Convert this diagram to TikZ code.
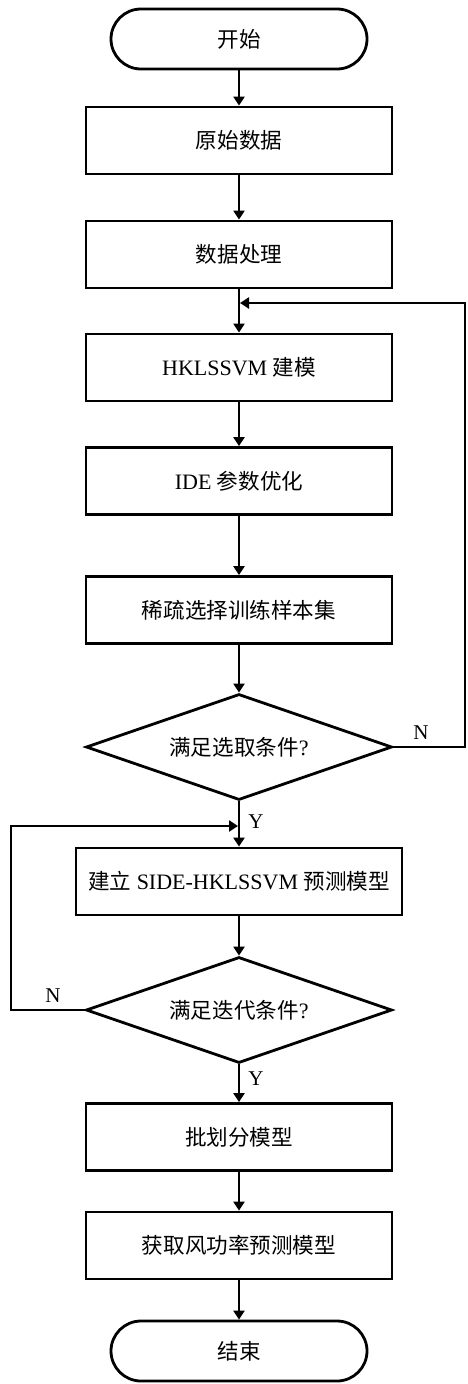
\documentclass[tikz,border=0pt]{standalone}
\usepackage{fontspec}
\setmainfont{Liberation Serif}
\newfontfamily\cjk{Noto Sans CJK SC}[Scale=0.98]
\usetikzlibrary{arrows.meta,shapes.geometric}

\tikzset{
  flow/.style={line width=2.8pt, draw=black},
  proc/.style={flow, rectangle, minimum width=306pt, minimum height=67pt,
               inner sep=0pt, font=\fontsize{22pt}{25pt}\selectfont},
  term/.style={proc, minimum width=256pt, minimum height=60pt, rounded corners=30pt},
  decide/.style={flow, diamond, shape aspect=2.9, minimum width=306pt,
                 minimum height=106pt, inner sep=0pt,
                 font=\fontsize{22pt}{25pt}\selectfont},
  link/.style={line width=2.8pt, -{Triangle[length=9pt,width=11pt]}},
  tag/.style={font=\fontsize{21pt}{23pt}\selectfont}
}

\begin{document}
\begin{tikzpicture}[x=1pt,y=-1pt]
\useasboundingbox (0,0) rectangle (467,1384);

% main column
\node[term]   (start) at (239,39)     {\cjk 开始};
\node[proc]   (raw)   at (239,140.5)  {\cjk 原始数据};
\node[proc]   (prep)  at (239,254.5)  {\cjk 数据处理};
\node[proc]   (hk)    at (239,367.5)  {HKLSSVM {\cjk 建模}};
\node[proc]   (ide)   at (239,481)    {IDE {\cjk 参数优化}};
\node[proc]   (sparse) at (239,610)   {\cjk 稀疏选择训练样本集};
\node[decide] (sel)   at (239,747)    {{\cjk 满足选取条件}?};
\node[proc, minimum width=326pt] (side) at (239,881.5) {{\cjk 建立} SIDE-HKLSSVM {\cjk 预测模型}};
\node[decide] (iter)  at (239,1010)   {{\cjk 满足迭代条件}?};
\node[proc]   (batch) at (239,1137)   {\cjk 批划分模型};
\node[proc]   (wind)  at (239,1245.5) {\cjk 获取风功率预测模型};
\node[term]   (stop)  at (239,1351)   {\cjk 结束};

% junction points of the two loops
\coordinate (j1) at (239,303);
\coordinate (j2) at (239,826);
\coordinate (r1) at (465,747);
\coordinate (r2) at (465,303);
\coordinate (l1) at (11,1010);
\coordinate (l2) at (11,826);

% straight connections
\draw[link] (start) -- (raw);
\draw[link] (raw) -- (prep);
\draw[link] (prep) -- (hk);
\draw[link] (hk) -- (ide);
\draw[link] (ide) -- (sparse);
\draw[link] (sparse) -- (sel);
\draw[link] (sel) -- (side);
\draw[link] (side) -- (iter);
\draw[link] (iter) -- (batch);
\draw[link] (batch) -- (wind);
\draw[link] (wind) -- (stop);

% feedback loops
\draw[link] (sel.east) -- (r1) -- (r2) -- ([xshift=1pt]j1);
\draw[link] (iter.west) -- (l1) -- (l2) -- ([xshift=-1pt]j2);

% branch labels
\node[tag] (n1) at (421,733)  {N};
\node[tag] (y1) at (256,822)  {Y};
\node[tag] (n2) at (53,996)   {N};
\node[tag] (y2) at (256,1079) {Y};
\end{tikzpicture}
\end{document}
